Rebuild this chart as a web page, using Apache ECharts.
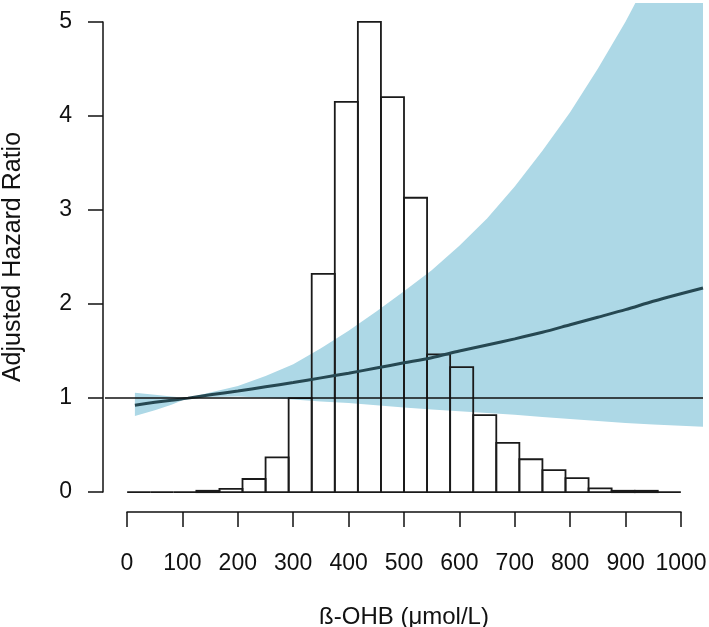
<!DOCTYPE html>
<html>
<head>
<meta charset="utf-8">
<script src="https://cdn.jsdelivr.net/npm/echarts@6/dist/echarts.min.js"></script>
<style>
html,body{margin:0;padding:0;background:#fff;}
#chart{width:709px;height:627px;}
</style>
</head>
<body>
<div id="chart"></div>
<script>
// ---- data ----
const xTickValues = [0, 100, 200, 300, 400, 500, 600, 700, 800, 900, 1000];
const yTickValues = [0, 1, 2, 3, 4, 5];
const xTitle = 'ß-OHB (μmol/L)';
const yTitle = 'Adjusted Hazard Ratio';

// histogram: 24 equal bins over 0..1000 (heights in y-axis units)
const histStart = 0;
const histEnd = 1000;
const histHeights = [0, 0, 0, 0.015, 0.035, 0.14, 0.37, 1.0, 2.32, 4.15, 5.0, 4.2,
                     3.13, 1.465, 1.33, 0.82, 0.525, 0.35, 0.234, 0.149, 0.04, 0.015, 0.015, 0];

// hazard ratio curve and confidence band
const curveX  = [14, 50, 80, 110, 150, 200, 250, 300, 350, 400, 450, 500, 550, 600, 650, 700, 750, 800, 850, 900, 950, 1000, 1040];
const hrLine  = [0.925, 0.955, 0.978, 1.0, 1.035, 1.075, 1.12, 1.165, 1.215, 1.265, 1.32, 1.375, 1.43, 1.50, 1.565, 1.63, 1.70, 1.78, 1.86, 1.94, 2.03, 2.11, 2.17];
const ciUpper = [1.056, 1.035, 1.018, 1.0, 1.06, 1.13, 1.235, 1.36, 1.53, 1.715, 1.92, 2.135, 2.36, 2.62, 2.91, 3.25, 3.63, 4.04, 4.50, 5.0, 5.56, 6.18, 6.73];
const ciLower = [0.81, 0.87, 0.93, 1.0, 1.012, 1.018, 1.005, 0.985, 0.965, 0.948, 0.925, 0.90, 0.88, 0.86, 0.842, 0.822, 0.80, 0.778, 0.757, 0.735, 0.72, 0.705, 0.695];
const refHR = 1;

// ---- build ----
const binW = (histEnd - histStart) / histHeights.length;
const histData = histHeights.map((h, i) => [histStart + i * binW, histStart + (i + 1) * binW, h]);
const lineData = curveX.map((x, i) => [x, hrLine[i]]);

const FONT = '"Liberation Sans", Arial, sans-serif';
const INK = '#111';
const BAND = '#ADD8E6';
const plain = v => String(v);

const chart = echarts.init(document.getElementById('chart'), null, {renderer: 'canvas'});
chart.setOption({
  animation: false,
  backgroundColor: '#fff',
  grid: [
    {left: 105, top: 3, width: 598, height: 508, containLabel: false, outerBoundsMode: 'none'},
    {left: 127, top: 22, width: 554, height: 490, containLabel: false, outerBoundsMode: 'none'},
    {left: 103, top: 22, width: 554, height: 470, containLabel: false, outerBoundsMode: 'none'}
  ],
  xAxis: [
    {gridIndex: 0, type: 'value', min: -40, max: 1040, show: false},
    {gridIndex: 1, type: 'value', min: 0, max: 1000, interval: 100, position: 'bottom',
      axisLine: {show: true, lineStyle: {color: INK, width: 1.5}},
      axisTick: {show: true, inside: false, length: 15, lineStyle: {color: INK, width: 1.5}},
      axisLabel: {show: true, margin: 40, fontSize: 23, color: INK, fontFamily: FONT,
        customValues: xTickValues, formatter: plain},
      splitLine: {show: false},
      name: xTitle, nameLocation: 'middle', nameGap: 93,
      nameTextStyle: {fontSize: 24, color: INK, fontFamily: FONT}
    },
    {gridIndex: 2, type: 'value', min: 0, max: 1000, show: false}
  ],
  yAxis: [
    {gridIndex: 0, type: 'value', min: -0.2, max: 5.2, show: false},
    {gridIndex: 1, type: 'value', min: 0, max: 5, show: false},
    {gridIndex: 2, type: 'value', min: 0, max: 5, interval: 1, position: 'left',
      axisLine: {show: true, lineStyle: {color: INK, width: 1.5}},
      axisTick: {show: true, inside: false, length: 15, lineStyle: {color: INK, width: 1.5}},
      axisLabel: {show: true, margin: 31, fontSize: 23, color: INK, fontFamily: FONT,
        customValues: yTickValues, formatter: plain},
      splitLine: {show: false},
      name: yTitle, nameLocation: 'middle', nameGap: 77, nameRotate: 90,
      nameTextStyle: {fontSize: 25, color: INK, fontFamily: FONT}
    }
  ],
  series: [
    {
      type: 'custom', xAxisIndex: 0, yAxisIndex: 0, z: 1, clip: true,
      data: [[0]],
      renderItem: function (params, api) {
        const pts = [];
        for (let i = 0; i < curveX.length; i++) pts.push(api.coord([curveX[i], ciUpper[i]]));
        for (let i = curveX.length - 1; i >= 0; i--) pts.push(api.coord([curveX[i], ciLower[i]]));
        return {type: 'polygon', shape: {points: pts}, style: {fill: BAND, stroke: null}};
      }
    },
    {
      type: 'custom', xAxisIndex: 0, yAxisIndex: 0, z: 2, clip: true,
      data: histData,
      renderItem: function (params, api) {
        const a = api.coord([api.value(0), api.value(2)]);
        const b = api.coord([api.value(1), 0]);
        return {type: 'polygon',
          shape: {points: [[a[0], b[1]], [a[0], a[1]], [b[0], a[1]], [b[0], b[1]]]},
          style: {fill: null, stroke: '#1a1a1a', lineWidth: 1.8}};
      }
    },
    {
      type: 'line', xAxisIndex: 0, yAxisIndex: 0, z: 3,
      data: lineData, showSymbol: false, smooth: 0.3,
      lineStyle: {color: '#264852', width: 3},
      markLine: {
        silent: true, symbol: ['none', 'none'], label: {show: false},
        lineStyle: {color: '#111', width: 1.6, type: 'solid'},
        data: [{yAxis: refHR}]
      }
    }
  ]
});
</script>
</body>
</html>
